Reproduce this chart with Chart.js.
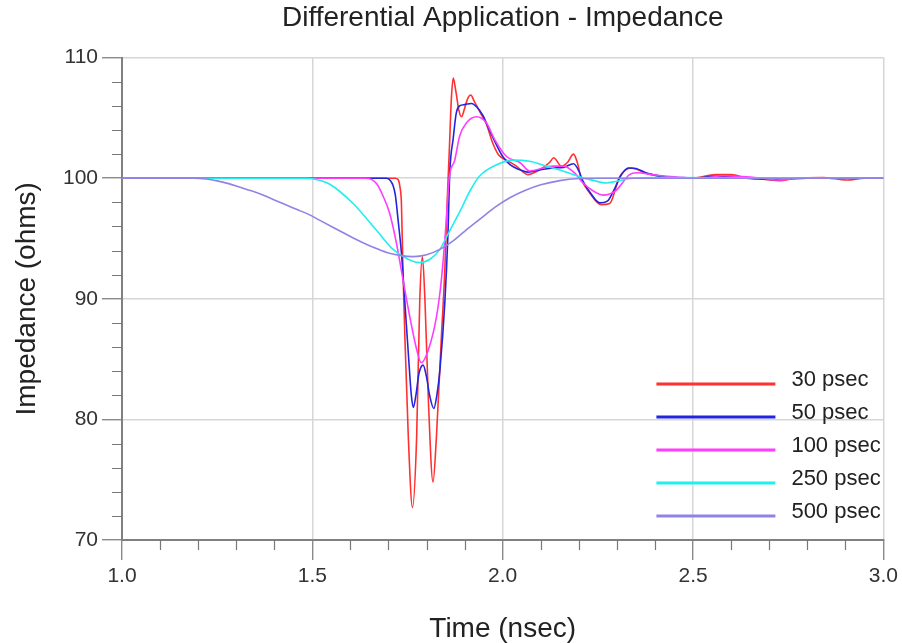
<!DOCTYPE html>
<html>
<head>
<meta charset="utf-8">
<script src="https://cdn.jsdelivr.net/npm/chart.js@4.4.1/dist/chart.umd.min.js"></script>
<style>
  html, body { margin: 0; padding: 0; background: #fff; }
</style>
</head>
<body>
<canvas id="chart" width="902" height="643"></canvas>
<script>
// series names + colours (legend order)
const seriesLabels = ['30 psec', '50 psec', '100 psec', '250 psec', '500 psec'];
const seriesColors = ['#ff3030', '#2424e0', '#ff3cff', '#22eeee', '#8f84e4'];

// 30 psec rise time
const t30 = [1.0, 1.60, 1.70, 1.718, 1.725, 1.730, 1.734, 1.738, 1.743, 1.752, 1.763, 1.774, 1.782, 1.789, 1.796, 1.805, 1.817, 1.826, 1.839, 1.848,
  1.854, 1.860, 1.865, 1.870, 1.877, 1.885, 1.892, 1.900, 1.908, 1.916, 1.925, 1.940, 1.957, 1.974, 1.990, 2.010, 2.036, 2.066, 2.097, 2.123,
  2.134, 2.154, 2.170, 2.186, 2.196, 2.206, 2.228, 2.259, 2.281, 2.307, 2.338, 2.377, 2.430, 2.500, 2.560, 2.600, 2.640, 2.690, 2.727, 2.770,
  2.840, 2.905, 2.950, 3.0];
const z30 = [100, 100, 100, 100, 99.9, 99.3, 97.9, 92.4, 86.9, 78.6, 72.7, 78.6, 89.7, 93.5, 89.7, 81.4, 74.8, 78.6, 86.9, 92.4,
  97.9, 102.5, 106.5, 108.3, 107.2, 105.6, 105.1, 105.8, 106.6, 106.9, 106.4, 105.5, 104.5, 102.9, 101.9, 101.5, 101.0, 100.3, 100.7, 101.3,
  101.7, 101.0, 101.3, 102.0, 101.3, 100.0, 98.8, 97.8, 97.9, 100.1, 100.85, 100.4, 100.1, 100.0, 100.3, 100.3, 100.0, 99.9, 99.8, 100.0,
  100.05, 99.85, 100, 100];

// 50 psec
const t50 = [1.0, 1.60, 1.695, 1.705, 1.712, 1.718, 1.726, 1.734, 1.743, 1.752, 1.760, 1.765, 1.772, 1.780, 1.791, 1.800, 1.808, 1.819, 1.827, 1.835,
  1.848, 1.856, 1.861, 1.870, 1.878, 1.887, 1.900, 1.918, 1.932, 1.948, 1.965, 1.983, 2.000, 2.020, 2.045, 2.066, 2.100, 2.132, 2.160, 2.186,
  2.200, 2.210, 2.230, 2.255, 2.275, 2.295, 2.310, 2.330, 2.350, 2.380, 2.430, 2.500, 2.560, 2.600, 2.650, 2.720, 2.800, 3.0];
const z50 = [100, 100, 100, 99.8, 99.4, 98.6, 96.3, 93.8, 89.7, 85.5, 82.0, 81.0, 82.0, 83.8, 84.5, 83.5, 82.0, 80.9, 82.0, 84.1,
  89.7, 95.2, 100.5, 103.3, 105.4, 106.0, 106.1, 106.2, 105.9, 105.2, 104.0, 102.8, 101.8, 101.1, 100.7, 100.5, 100.7, 100.85, 100.9, 101.2,
  100.6, 99.8, 98.8, 97.95, 98.1, 99.2, 100.2, 100.85, 100.8, 100.4, 100.1, 100, 100.15, 100.15, 100, 99.9, 100, 100];

// 100 psec
const t100 = [1.0, 1.60, 1.640, 1.655, 1.670, 1.686, 1.703, 1.721, 1.738, 1.756, 1.774, 1.786, 1.805, 1.826, 1.839, 1.852, 1.859, 1.874, 1.887, 1.905,
  1.931, 1.957, 1.979, 2.010, 2.045, 2.071, 2.132, 2.160, 2.193, 2.211, 2.240, 2.263, 2.298, 2.333, 2.351, 2.404, 2.460, 2.520, 2.580, 2.620,
  2.680, 2.720, 2.780, 3.0];
const z100 = [100, 100, 100, 99.9, 99.5, 98.5, 97.1, 94.6, 91.6, 88.5, 85.8, 84.7, 85.8, 88.5, 91.6, 96.6, 99.9, 101.5, 103.5, 104.6,
  105.1, 104.6, 103.2, 101.8, 101.3, 100.6, 101.0, 101.0, 100.3, 99.6, 98.9, 98.6, 99.0, 100.3, 100.45, 100.25, 100.1, 100, 100.2, 100.15,
  100, 99.85, 100, 100];

// 250 psec
const t250 = [1.0, 1.40, 1.480, 1.510, 1.546, 1.607, 1.668, 1.712, 1.750, 1.782, 1.810, 1.835, 1.860, 1.887, 1.915, 1.940, 1.983, 2.027, 2.071, 2.115,
  2.158, 2.200, 2.240, 2.272, 2.300, 2.340, 2.400, 3.0];
const z250 = [100, 100, 100, 99.9, 99.5, 97.9, 95.7, 94.1, 93.3, 93.0, 93.3, 94.1, 95.6, 97.2, 99.0, 100.2, 101.1, 101.5, 101.4, 101.0,
  100.6, 100.15, 99.8, 99.6, 99.75, 100.0, 100.05, 100];

// 500 psec
const t500 = [1.0, 1.15, 1.19, 1.22, 1.25, 1.28, 1.31, 1.34, 1.37, 1.40, 1.43, 1.46, 1.49, 1.52, 1.55, 1.58, 1.61, 1.64, 1.67, 1.70,
  1.73, 1.765, 1.80, 1.835, 1.87, 1.90, 1.94, 1.98, 2.02, 2.06, 2.10, 2.15, 2.20, 2.25, 3.0];
const z500 = [100, 100, 100, 99.93, 99.78, 99.55, 99.25, 98.95, 98.6, 98.2, 97.8, 97.4, 97.0, 96.5, 96.0, 95.5, 95.0, 94.55, 94.15, 93.8,
  93.6, 93.5, 93.65, 94.1, 94.8, 95.6, 96.6, 97.6, 98.4, 99.0, 99.45, 99.8, 99.97, 100, 100];

const times = [t30, t50, t100, t250, t500];
const values = [z30, z50, z100, z250, z500];

// axis ticks
const xMajor = [1.0, 1.5, 2.0, 2.5, 3.0];
const yMajor = [70, 80, 90, 100, 110];

Chart.defaults.font.family = '"Liberation Sans", Arial, Helvetica, sans-serif';

const datasets = seriesLabels.map((label, i) => ({
  label,
  data: times[i].map((t, k) => ({ x: t, y: values[i][k] })),
  borderColor: seriesColors[i],
  borderWidth: 1.6,
  pointRadius: 0,
  cubicInterpolationMode: 'monotone',
  order: seriesLabels.length - 1 - i  // last series drawn on top
}));

// minor ticks + in-plot legend
const extras = {
  id: 'extras',
  afterDraw(chart) {
    const { ctx, chartArea: a, scales: { x, y } } = chart;
    ctx.save();
    ctx.strokeStyle = '#777';
    ctx.lineWidth = 1.2;
    ctx.beginPath();
    for (let i = 10; i <= 30; i++) {
      if (i % 5 === 0) continue;
      const px = Math.round(x.getPixelForValue(i / 10)) + 0.5;
      ctx.moveTo(px, a.bottom); ctx.lineTo(px, a.bottom + 10);
    }
    for (let v = 70; v <= 110; v += 2) {
      if (v % 10 === 0) continue;
      const py = Math.round(y.getPixelForValue(v)) + 0.5;
      ctx.moveTo(a.left - 10, py); ctx.lineTo(a.left, py);
    }
    ctx.stroke();

    ctx.font = '22px "Liberation Sans", Arial, sans-serif';
    ctx.textBaseline = 'middle';
    ctx.fillStyle = '#222';
    seriesLabels.forEach((label, i) => {
      const ly = a.bottom - 156 + i * 33;
      ctx.strokeStyle = seriesColors[i];
      ctx.lineWidth = 3;
      ctx.beginPath();
      ctx.moveTo(a.right - 227, ly); ctx.lineTo(a.right - 108, ly);
      ctx.stroke();
      ctx.fillText(label, a.right - 92, ly - 4);
    });
    ctx.restore();
  }
};

new Chart(document.getElementById('chart'), {
  type: 'line',
  data: { datasets },
  plugins: [extras],
  options: {
    responsive: false,
    animation: false,
    devicePixelRatio: 1,
    layout: { padding: { left: 0, right: 18, top: 0, bottom: 0 } },
    plugins: {
      legend: { display: false },
      tooltip: { enabled: false },
      title: {
        display: true,
        fullSize: false,
        text: 'Differential Application - Impedance',
        color: '#222',
        font: { size: 28, weight: 'normal' },
        padding: { top: 1, bottom: 23 }
      }
    },
    scales: {
      x: {
        type: 'linear',
        min: 1, max: 3,
        afterBuildTicks: s => { s.ticks = xMajor.map(v => ({ value: v })); },
        afterFit: s => { s.height = 103; },
        ticks: { callback: v => v.toFixed(1), color: '#333', font: { size: 21 }, padding: 4, maxRotation: 0 },
        grid: { color: '#d6d6d6', lineWidth: 1.5, tickColor: '#777', tickLength: 20, tickWidth: 1.2 },
        border: { color: '#808080', width: 2 },
        title: { display: true, text: 'Time (nsec)', color: '#222', font: { size: 28, lineHeight: 1 }, padding: { top: 0, bottom: 0 } }
      },
      y: {
        min: 70, max: 110,
        afterBuildTicks: s => { s.ticks = yMajor.map(v => ({ value: v })); },
        afterFit: s => { s.width = 122; },
        ticks: { color: '#333', font: { size: 21 }, padding: 4 },
        grid: { color: '#d6d6d6', lineWidth: 1.5, tickColor: '#777', tickLength: 20, tickWidth: 1.2 },
        border: { color: '#808080', width: 2 },
        title: { display: true, text: 'Impedance (ohms)', color: '#222', font: { size: 28, lineHeight: 1 }, padding: { top: 13, bottom: 0 } }
      }
    }
  }
});
</script>
</body>
</html>
